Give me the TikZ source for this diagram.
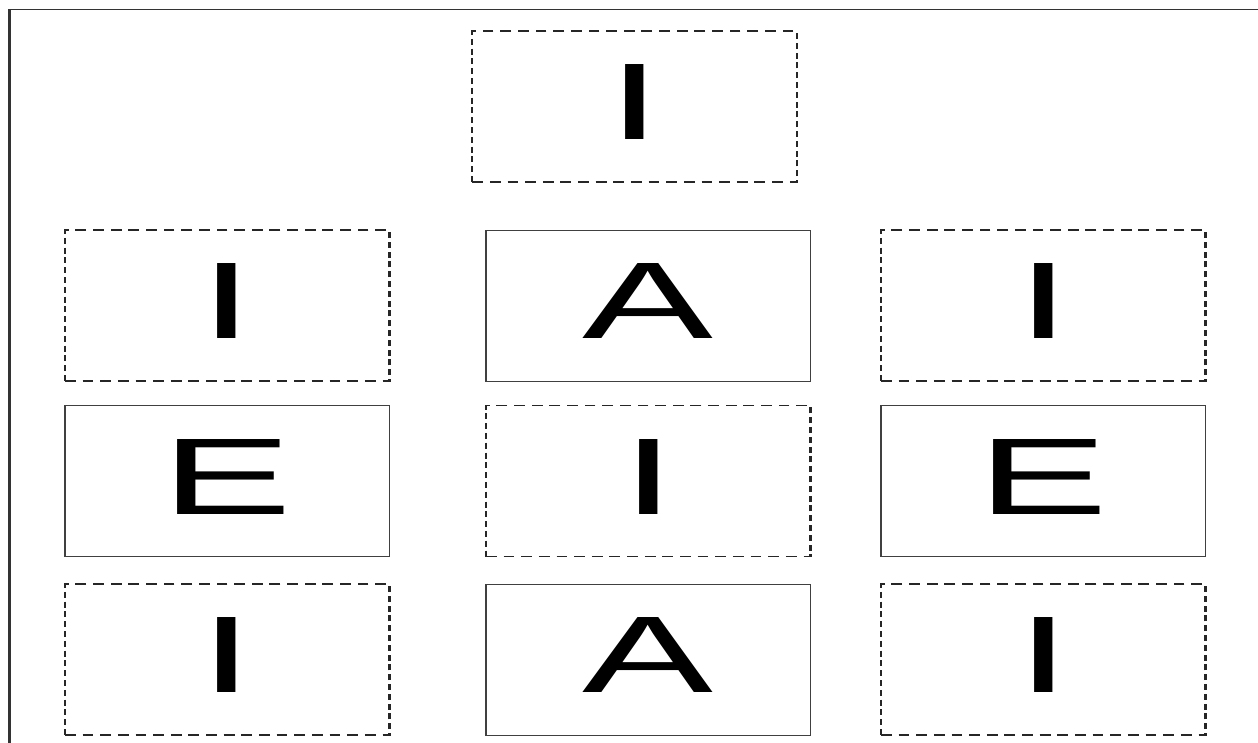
\documentclass[tikz,border=0pt]{standalone}
\usepackage{fontspec}
\setmainfont{Liberation Sans}
\tikzset{
  letterbox/.style={rectangle, minimum width=180.3pt, minimum height=151pt, inner sep=0pt,
    text height=78pt, text depth=12pt, font=\fontsize{109}{120}\selectfont},
  solidbox/.style={letterbox, draw=black!75, line width=0.9pt},
  dashbox/.style={letterbox, draw=black!85, line width=1.2pt, dash pattern=on 6pt off 3.8pt},
  frameline/.style={draw=black!80, line width=1.8pt},
}
\begin{document}
\begin{tikzpicture}[x=1pt,y=1pt]
\useasboundingbox (0,0) rectangle (1258,-742);
\fill[white] (0,0) rectangle (1258,-742);
\begin{scope}[transform canvas={xscale=1.8}]
  \coordinate (ftr) at (700,-9.5);
  \coordinate (ftl) at (5.28,-9.5);
  \coordinate (fbl) at (5.28,-745);
  \draw[frameline] (ftr) -- (ftl) -- (fbl);
  \node[dashbox]  (top) at (352.5,-106.5) {I};
  \node[dashbox]  (r1l) at (126.25,-305.5) {I};
  \node[solidbox] (r1m) at (360.14,-305.5) {A};
  \node[dashbox]  (r1r) at (579.58,-305.5) {I};
  \node[solidbox] (r2l) at (126.25,-481) {E};
  \node[dashbox]  (r2m) at (360.14,-481) {I};
  \node[solidbox] (r2r) at (579.58,-481) {E};
  \node[dashbox]  (r3l) at (126.25,-659.5) {I};
  \node[solidbox] (r3m) at (360.14,-659.5) {A};
  \node[dashbox]  (r3r) at (579.58,-659.5) {I};
\end{scope}
\end{tikzpicture}
\end{document}
